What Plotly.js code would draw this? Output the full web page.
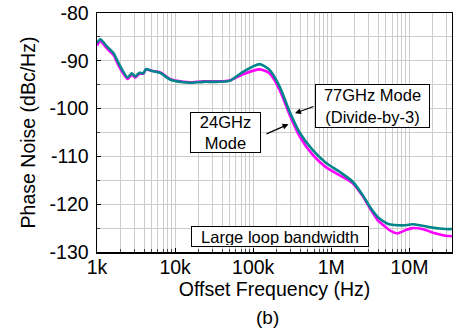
<!DOCTYPE html>
<html>
<head>
<meta charset="utf-8">
<script src="https://cdn.plot.ly/plotly-3.0.1.min.js"></script>
<style>html,body{margin:0;padding:0;background:#fff;}#chart{width:453px;height:333px;}</style>
</head>
<body>
<div id="chart"></div>
<script>
// Offset frequency (Hz)
const freqHz = [1000, 1100, 1340, 1630, 1890, 2460, 2790, 3080, 3490, 3930, 4250, 5000, 6400, 8600,
  12700, 15500, 22900, 34000, 50000, 74000, 121000, 162000, 218000, 292000, 392000, 579000, 859000,
  1270000, 1880000, 2520000, 3220000, 4000000, 5000000, 5500000, 7000000, 9000000, 10900000,
  14600000, 19600000, 23900000, 29100000, 35000000];
// 77GHz Mode (Divide-by-3), dBc/Hz
const pn77 = [-86.3, -85.5, -87.0, -88.4, -90.5, -93.5, -92.6, -93.3, -92.5, -92.6, -91.7, -92.1, -92.5, -93.9,
  -94.5, -94.6, -94.4, -94.4, -94.2, -92.3, -90.7, -91.9, -95.4, -100.6, -105.0, -108.7, -111.4,
  -113.2, -115.3, -118.1, -120.9, -122.8, -123.9, -124.2, -124.4, -124.4, -124.2,
  -124.5, -124.9, -125.1, -125.2, -125.2];
// 24GHz Mode, dBc/Hz
const pn24 = [-86.8, -85.9, -87.4, -88.8, -91.0, -93.8, -92.9, -93.5, -92.7, -92.7, -91.8, -92.1, -92.4, -93.8,
  -94.4, -94.5, -94.3, -94.3, -94.1, -92.8, -91.8, -92.6, -96.1, -101.3, -105.8, -109.7, -112.3,
  -113.9, -115.6, -118.3, -121.2, -123.5, -124.8, -125.4, -126.1, -125.4, -125.0,
  -125.2, -125.9, -126.3, -126.6, -126.7];

const xTickVals = [1e3, 1e4, 1e5, 1e6, 1e7];
const xTickText = ['1k', '10k', '100k', '1M', '10M'];
const yTickVals = [-130, -120, -110, -100, -90, -80];
const yTickText = ['-130', '-120', '-110', '-100', '-90', '-80'];

const FONT = '"Liberation Sans", Arial, sans-serif';
const gridCol = '#cccccc';

const traces = [
  {x: freqHz, y: pn24, type: 'scatter', mode: 'lines', name: '24GHz Mode',
   line: {color: '#ff00ff', width: 2.6, shape: 'spline', smoothing: 0.6}},
  {x: freqHz, y: pn77, type: 'scatter', mode: 'lines', name: '77GHz Mode',
   line: {color: '#00868a', width: 2.6, shape: 'spline', smoothing: 0.6}}
];

const layout = {
  width: 453, height: 333,
  margin: {l: 97, r: 1, t: 13, b: 81},
  paper_bgcolor: '#fff', plot_bgcolor: '#fff',
  showlegend: false,
  font: {family: FONT, color: '#000', size: 19.5},
  xaxis: {
    type: 'log', range: [3, 7.545],
    tickvals: xTickVals, ticktext: xTickText,
    showgrid: true, gridcolor: gridCol, gridwidth: 1,
    ticks: 'inside', ticklen: 4, tickcolor: '#000',
    minor: {dtick: 'D1', showgrid: true, gridcolor: gridCol, gridwidth: 1, ticks: 'inside', ticklen: 3, tickcolor: '#444'},
    showline: true, linecolor: '#000', linewidth: 1.5, mirror: true,
    zeroline: false,
    ticklabelstandoff: -3,
    tickfont: {size: 19.5, family: FONT},
    title: {text: 'Offset Frequency (Hz)', font: {size: 19.5, family: FONT}, standoff: 0}
  },
  yaxis: {
    range: [-130, -80],
    tickvals: yTickVals, ticktext: yTickText,
    showgrid: true, gridcolor: gridCol, gridwidth: 1,
    ticks: 'inside', ticklen: 4, tickcolor: '#000',
    minor: {dtick: 5, showgrid: true, gridcolor: gridCol, gridwidth: 1, ticks: 'inside', ticklen: 3, tickcolor: '#444'},
    showline: true, linecolor: '#000', linewidth: 1.5, mirror: true,
    zeroline: false,
    ticklabelstandoff: 3,
    tickfont: {size: 19.5, family: FONT},
    title: {text: 'Phase Noise (dBc/Hz)', font: {size: 19.5, family: FONT}, standoff: 8}
  },
  annotations: [
    {xref: 'paper', yref: 'paper', x: 0.776, y: 0.611, text: '77GHz Mode<br>(Divide-by-3)',
     showarrow: false, font: {size: 16.5, family: FONT}, bgcolor: '#fff', bordercolor: '#000', borderwidth: 1,
     width: 111, height: 40, xanchor: 'center', yanchor: 'middle'},
    {xref: 'paper', yref: 'paper', x: 0.362, y: 0.498, text: '24GHz<br>Mode',
     showarrow: false, font: {size: 16.5, family: FONT}, bgcolor: '#fff', bordercolor: '#000', borderwidth: 1,
     width: 67, height: 37, xanchor: 'center', yanchor: 'middle'},
    {xref: 'paper', yref: 'paper', x: 0.5147, y: 0.0628, text: 'Large loop bandwidth',
     showarrow: false, font: {size: 16.5, family: FONT}, bgcolor: '#fff', bordercolor: '#000', borderwidth: 1,
     width: 174, height: 17, xanchor: 'center', yanchor: 'middle'},
    {xref: 'paper', yref: 'paper', x: 0.5577, y: 0.5803, text: '', showarrow: true,
     ax: 20, ay: -7.3, arrowhead: 2, arrowsize: 1, arrowwidth: 1.2, arrowcolor: '#000'},
    {xref: 'paper', yref: 'paper', x: 0.5394, y: 0.5347, text: '', showarrow: true,
     ax: -23.5, ay: 10.3, arrowhead: 2, arrowsize: 1, arrowwidth: 1.2, arrowcolor: '#000'},
    {xref: 'paper', yref: 'paper', x: 0.48, y: -0.276, text: '(b)', showarrow: false,
     font: {size: 19, family: FONT}, xanchor: 'center', yanchor: 'middle'}
  ]
};

Plotly.newPlot('chart', traces, layout, {staticPlot: true, displayModeBar: false});
</script>
</body>
</html>
